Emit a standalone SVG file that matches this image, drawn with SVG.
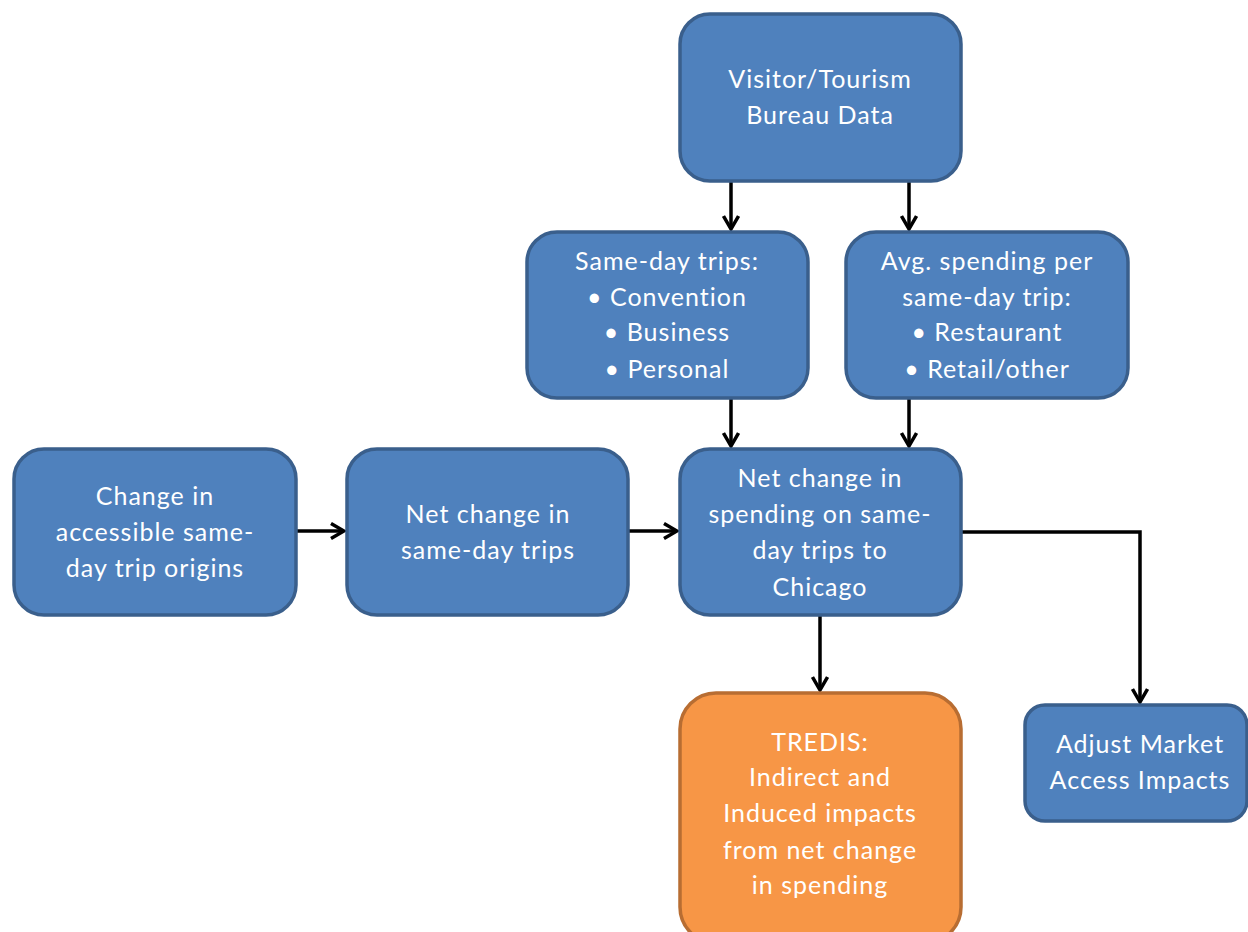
<svg xmlns="http://www.w3.org/2000/svg" width="1248" height="932" viewBox="0 0 1248 932">
<defs>
<style>
.b{fill:#4F81BD;stroke:#3A5F8C;stroke-width:3.5}
.o{fill:#F79646;stroke:#B86D32;stroke-width:3.5}
.t{font-family:Lato,"Open Sans",sans-serif;font-size:25px;letter-spacing:1px;fill:#fff;text-anchor:middle}
.c{fill:none;stroke:#000;stroke-width:3.5}
</style>
<marker id="a" viewBox="0 0 18 18" refX="16" refY="9" markerWidth="18" markerHeight="18" markerUnits="userSpaceOnUse" orient="auto">
<path d="M3,1.5 L16,9 L3,16.5" fill="none" stroke="#000" stroke-width="3.5"/>
</marker>
</defs>
<rect width="1248" height="932" fill="#fff"/>
<g id="connectors">
<path class="c" d="M731,181 V229" marker-end="url(#a)"/>
<path class="c" d="M909,181 V229" marker-end="url(#a)"/>
<path class="c" d="M731,398 V446" marker-end="url(#a)"/>
<path class="c" d="M909,398 V446" marker-end="url(#a)"/>
<path class="c" d="M297,531 H344" marker-end="url(#a)"/>
<path class="c" d="M629,531 H677" marker-end="url(#a)"/>
<path class="c" d="M962,532 H1140 V702" marker-end="url(#a)"/>
<path class="c" d="M820,616 V690" marker-end="url(#a)"/>
</g>
<g id="visitor">
<rect class="b" x="680" y="14" width="281" height="167" rx="30"/>
<text class="t"><tspan x="820" y="88">Visitor/Tourism</tspan><tspan x="820" y="124">Bureau Data</tspan></text>
</g>
<g id="sameday">
<rect class="b" x="527" y="232" width="281" height="166" rx="30"/>
<text class="t"><tspan x="667" y="270">Same-day trips:</tspan><tspan x="667" y="306">• Convention</tspan><tspan x="667" y="341">• Business</tspan><tspan x="667" y="378">• Personal</tspan></text>
</g>
<g id="avgspending">
<rect class="b" x="846" y="232" width="282" height="166" rx="30"/>
<text class="t"><tspan x="987" y="270">Avg. spending per</tspan><tspan x="987" y="306">same-day trip:</tspan><tspan x="987" y="341">• Restaurant</tspan><tspan x="987" y="378">• Retail/other</tspan></text>
</g>
<g id="change">
<rect class="b" x="14" y="449" width="282" height="166" rx="30"/>
<text class="t"><tspan x="155" y="505">Change in</tspan><tspan x="155" y="541">accessible same-</tspan><tspan x="155" y="577">day trip origins</tspan></text>
</g>
<g id="nettrips">
<rect class="b" x="347" y="449" width="281" height="166" rx="30"/>
<text class="t"><tspan x="488" y="523">Net change in</tspan><tspan x="488" y="559">same-day trips</tspan></text>
</g>
<g id="netspending">
<rect class="b" x="680" y="449" width="281" height="166" rx="30"/>
<text class="t"><tspan x="820" y="487">Net change in</tspan><tspan x="820" y="523">spending on same-</tspan><tspan x="820" y="559">day trips to</tspan><tspan x="820" y="596">Chicago</tspan></text>
</g>
<g id="tredis">
<rect class="o" x="680" y="693" width="281" height="250" rx="36"/>
<text class="t"><tspan x="820" y="751">TREDIS:</tspan><tspan x="820" y="786">Indirect and</tspan><tspan x="820" y="822">Induced impacts</tspan><tspan x="820" y="859">from net change</tspan><tspan x="820" y="894">in spending</tspan></text>
</g>
<g id="adjust">
<rect class="b" x="1025" y="705" width="222" height="116" rx="20"/>
<text class="t"><tspan x="1140" y="753">Adjust Market</tspan><tspan x="1140" y="789">Access Impacts</tspan></text>
</g>
</svg>
